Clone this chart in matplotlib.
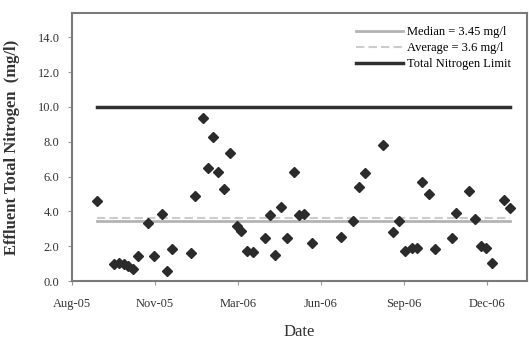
import matplotlib
matplotlib.use('Agg')
import matplotlib.pyplot as plt
import numpy as np

plt.rcParams['font.family'] = 'Liberation Serif'

# sample day (days after start of axis) and effluent TN (mg/l)
days = [30, 51, 57, 63, 68, 74, 80, 92, 99, 108, 114, 120, 143, 148, 158, 164,
        170, 176, 183, 190, 199, 204, 211, 218, 232, 239, 245, 252, 259, 267,
        273, 279, 289, 324, 338, 346, 353, 374, 387, 394, 401, 409, 416, 422,
        430, 437, 458, 462, 478, 485, 492, 499, 506, 520, 527]
tn = [4.59, 0.97, 1.03, 0.97, 0.88, 0.69, 1.42, 3.36, 1.42, 3.87, 0.58, 1.85,
      1.61, 4.87, 9.35, 6.51, 8.29, 6.28, 5.30, 7.36, 3.15, 2.87, 1.74, 1.68,
      2.46, 3.81, 1.48, 4.28, 2.46, 6.28, 3.80, 3.85, 2.19, 2.55, 3.47, 5.38,
      6.20, 7.82, 2.81, 3.47, 1.75, 1.89, 1.89, 5.68, 5.00, 1.84, 2.47, 3.89,
      5.19, 3.59, 2.02, 1.89, 1.03, 4.68, 4.19]

median_val = 3.45
average_val = 3.6
limit_val = 10.0

tick_days = [0, 100, 200, 300, 400, 500]
tick_labels = ['Aug-05', 'Nov-05', 'Mar-06', 'Jun-06', 'Sep-06', 'Dec-06']

fig = plt.figure(figsize=(5.29, 3.41), dpi=100)
ax = fig.add_axes([72/529, 1-281/341, 455/529, 268/341])

span = [days[0], days[-1]]
ax.plot(span, [median_val]*2, color='#b4b4b4', lw=2, label='Median = 3.45 mg/l')
ax.plot(span, [average_val]*2, color='#cccccc', lw=1.5, ls=(0, (4, 2)),
        label='Average = 3.6 mg/l')
ax.plot(span, [limit_val]*2, color='#303030', lw=2.5, label='Total Nitrogen Limit')
ax.plot(days, tn, 'D', color='#2b2b2b', markersize=5.5, ls='none')

ax.set_xlim(0, 548)
ax.set_ylim(0, 15.4)
ax.set_yticks(np.arange(0, 15, 2))
ax.set_yticklabels(['%.1f' % v for v in np.arange(0, 15, 2)])
ax.set_xticks(tick_days)
ax.set_xticklabels(tick_labels)

for s in ax.spines.values():
    s.set_color('#7a7a7a')
    s.set_linewidth(1.5)
ax.tick_params(axis='both', labelsize=9, color='#999999', length=3, width=0.8,
               labelcolor='#333333')
ax.tick_params(axis='x', pad=9)
ax.tick_params(axis='y', pad=6)

ax.set_ylabel('Effluent Total Nitrogen  (mg/l)', fontsize=12, fontweight='bold',
              color='#333333')
ax.yaxis.set_label_coords(-0.114, 0.5)
ax.set_xlabel('Date', fontsize=12, color='#333333')
ax.xaxis.set_label_coords(0.5, -0.16)

ax.legend(loc='upper right', bbox_to_anchor=(0.965, 0.95), frameon=False,
          fontsize=9, handlelength=3.8, handletextpad=0.3, labelspacing=0.3,
          borderpad=0, borderaxespad=0)

fig.savefig('out.png', dpi=100)
